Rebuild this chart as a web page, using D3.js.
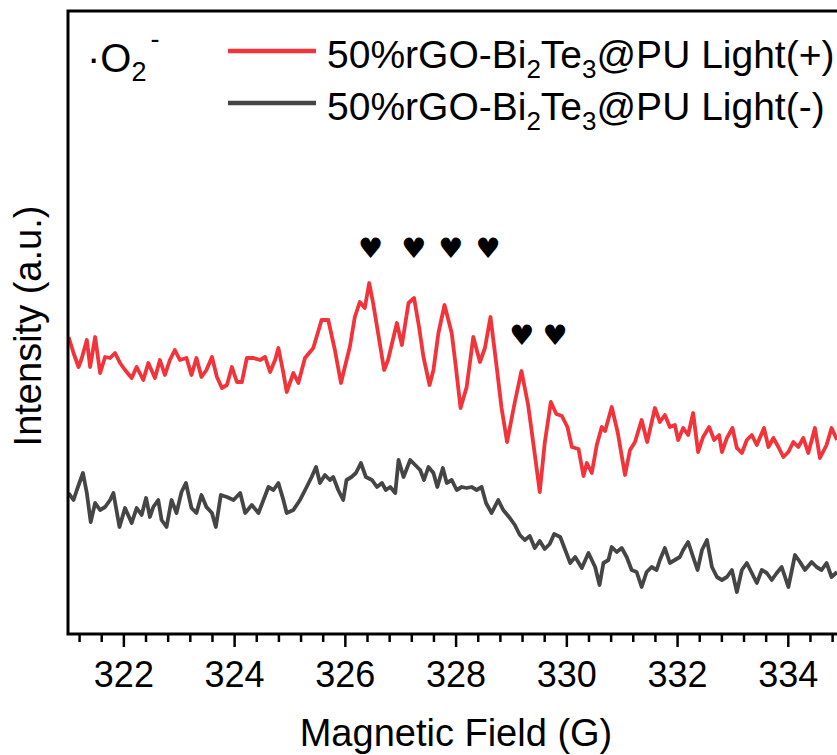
<!DOCTYPE html>
<html>
<head>
<meta charset="utf-8">
<script src="https://cdn.jsdelivr.net/npm/d3@7"></script>
<style>
html,body{margin:0;padding:0;background:#fff;}
svg{display:block;}
text{font-family:"Liberation Sans", Arial, sans-serif;fill:#000;}
</style>
</head>
<body>
<svg id="chart" width="837" height="755"></svg>
<script>
// ---- data (Magnetic Field in G, Intensity in a.u.) ----
const lightOn = [
[321.01,29.7],[321.10,28.1],[321.19,26.7],[321.25,27.6],[321.34,29.4],[321.40,26.7],[321.49,29.7],[321.58,26.1],
[321.67,27.7],[321.76,27.6],[321.85,28.1],[321.94,27.1],[322.03,26.4],[322.15,25.6],[322.24,26.7],[322.36,25.4],
[322.45,27.1],[322.57,25.6],[322.66,27.4],[322.75,25.9],[322.84,27.4],[322.93,28.4],[323.02,27.4],[323.14,27.6],
[323.23,25.9],[323.32,27.6],[323.41,25.7],[323.50,26.4],[323.60,27.7],[323.69,25.7],[323.78,24.6],[323.87,24.9],
[323.96,26.7],[324.05,25.2],[324.14,25.2],[324.23,27.6],[324.35,27.6],[324.47,27.4],[324.56,27.7],[324.65,26.2],
[324.74,27.4],[324.80,28.6],[324.89,26.1],[324.95,24.2],[325.07,26.1],[325.16,25.1],[325.28,27.6],[325.43,28.6],
[325.58,31.4],[325.70,31.4],[325.82,28.4],[325.93,25.1],[326.00,26.7],[326.09,28.7],[326.18,31.7],[326.27,33.2],
[326.36,32.6],[326.44,35.1],[326.51,33.1],[326.60,30.1],[326.71,26.4],[326.78,27.4],[326.94,31.1],[327.03,28.9],
[327.15,33.1],[327.25,33.6],[327.34,30.7],[327.42,27.7],[327.53,24.9],[327.60,26.4],[327.69,30.1],[327.80,32.9],
[327.93,30.1],[327.99,27.4],[328.09,22.6],[328.20,24.7],[328.32,29.7],[328.44,27.2],[328.53,28.6],[328.63,31.7],
[328.74,26.8],[328.83,22.6],[328.93,19.2],[329.07,23.2],[329.19,26.3],[329.31,22.9],[329.42,18.4],[329.52,14.2],
[329.61,19.1],[329.72,23.2],[329.82,22.0],[329.92,21.8],[330.02,20.7],[330.10,18.7],[330.22,18.5],[330.31,15.8],
[330.37,17.1],[330.46,16.1],[330.55,18.9],[330.64,20.7],[330.70,20.3],[330.82,22.7],[330.93,20.1],[331.06,15.9],
[331.15,18.4],[331.24,19.2],[331.36,21.4],[331.46,19.2],[331.60,22.6],[331.69,21.2],[331.78,21.9],[331.87,20.7],
[331.96,20.9],[332.02,19.4],[332.11,20.6],[332.20,19.9],[332.29,22.1],[332.38,18.2],[332.47,19.7],[332.58,20.7],
[332.67,19.4],[332.76,19.9],[332.81,18.2],[332.90,19.6],[333.00,20.6],[333.08,18.6],[333.17,18.1],[333.26,19.4],
[333.35,19.9],[333.44,18.9],[333.57,20.6],[333.65,18.7],[333.74,19.6],[333.83,18.7],[333.92,17.7],[334.01,18.2],
[334.10,19.2],[334.19,18.7],[334.28,19.6],[334.37,18.1],[334.49,20.6],[334.58,17.6],[334.70,18.9],[334.79,20.6],
[334.89,19.4]
];
const lightOff = [
[321.01,14.1],[321.10,13.4],[321.16,14.4],[321.27,16.1],[321.34,14.1],[321.41,11.2],[321.49,13.1],[321.58,12.4],
[321.67,12.7],[321.76,13.4],[321.82,14.1],[321.93,10.7],[322.03,12.6],[322.15,11.1],[322.24,12.6],[322.33,11.9],
[322.41,13.6],[322.48,11.7],[322.54,12.7],[322.63,13.4],[322.69,11.4],[322.78,10.7],[322.87,13.4],[322.96,12.1],
[323.05,14.2],[323.13,15.1],[323.23,12.6],[323.32,12.1],[323.41,13.9],[323.50,12.7],[323.60,12.1],[323.67,10.7],
[323.76,13.9],[323.87,13.7],[323.99,13.4],[324.11,14.1],[324.20,12.1],[324.32,12.9],[324.44,12.1],[324.53,13.4],
[324.62,14.7],[324.71,14.4],[324.80,15.1],[324.89,13.4],[324.95,12.1],[325.07,12.4],[325.19,13.4],[325.31,14.7],
[325.40,15.7],[325.48,16.7],[325.55,15.1],[325.64,15.9],[325.73,15.4],[325.79,15.7],[325.88,14.4],[325.97,13.4],
[326.03,15.4],[326.12,15.7],[326.20,16.1],[326.29,17.1],[326.38,15.7],[326.49,15.4],[326.58,14.7],[326.67,15.1],
[326.74,14.4],[326.82,14.7],[326.91,14.1],[326.97,17.4],[327.06,15.7],[327.18,17.4],[327.27,16.9],[327.36,16.4],
[327.43,15.4],[327.51,16.7],[327.60,16.1],[327.67,14.7],[327.77,16.6],[327.84,15.1],[327.93,15.4],[328.02,14.4],
[328.11,14.7],[328.20,14.6],[328.29,14.7],[328.38,14.4],[328.47,14.7],[328.55,13.1],[328.65,12.1],[328.77,13.4],
[328.86,12.4],[328.98,11.6],[329.07,10.9],[329.16,9.9],[329.25,9.4],[329.34,9.8],[329.43,8.6],[329.52,9.3],
[329.61,8.5],[329.70,9.0],[329.78,10.0],[329.89,9.7],[329.98,8.4],[330.07,7.1],[330.16,7.7],[330.28,6.6],
[330.40,8.1],[330.52,6.7],[330.60,4.9],[330.67,7.1],[330.76,7.4],[330.82,8.7],[330.91,8.2],[331.00,8.6],
[331.09,7.7],[331.18,6.4],[331.27,6.2],[331.36,4.7],[331.45,6.2],[331.54,6.7],[331.63,6.4],[331.69,7.4],
[331.78,8.6],[331.87,7.1],[331.96,7.4],[332.05,7.7],[332.11,8.4],[332.20,9.2],[332.29,7.7],[332.37,6.4],
[332.45,8.4],[332.54,9.4],[332.63,6.7],[332.72,5.7],[332.81,5.4],[332.90,5.7],[332.99,6.4],[333.08,4.2],
[333.17,6.4],[333.26,7.1],[333.35,6.1],[333.44,5.1],[333.53,6.4],[333.62,6.1],[333.71,5.4],[333.80,6.1],
[333.89,6.7],[334.01,4.7],[334.13,7.9],[334.22,7.2],[334.31,6.4],[334.43,7.2],[334.52,6.7],[334.61,6.4],
[334.70,7.1],[334.79,5.7],[334.89,6.2]
];
const xTicks = [322, 324, 326, 328, 330, 332, 334];
const heartMarks = [[326.47,38.6],[327.25,38.6],[327.92,38.6],[328.59,38.6],[329.20,29.9],[329.80,29.9]];
const seriesNames = ["Light(+)", "Light(-)"];

// ---- layout ----
const svg = d3.select("#chart");
const mLeft = 68, mTop = 11, mBottom = 634;
const x = d3.scaleLinear().domain([321, 335]).range([mLeft, mLeft + 14 * 55.37]);
const y = d3.scaleLinear().domain([0, 62.3]).range([mBottom, mTop]);

const colors = ["#f2333a", "#454545"];

svg.append("defs").append("clipPath").attr("id", "clip")
  .append("rect").attr("x", mLeft).attr("y", mTop).attr("width", x(335) - mLeft).attr("height", mBottom - mTop);

const line = d3.line().x(d => x(d[0])).y(d => y(d[1]));
const plot = svg.append("g").attr("clip-path", "url(#clip)");
plot.append("path").datum(lightOff).attr("d", line)
  .attr("fill", "none").attr("stroke", colors[1]).attr("stroke-width", 3.8).attr("stroke-linejoin", "round");
plot.append("path").datum(lightOn).attr("d", line)
  .attr("fill", "none").attr("stroke", colors[0]).attr("stroke-width", 3.8).attr("stroke-linejoin", "round");

// frame
svg.append("rect").attr("x", mLeft).attr("y", mTop).attr("width", x(335) - mLeft).attr("height", mBottom - mTop)
  .attr("fill", "none").attr("stroke", "#000").attr("stroke-width", 3);

// x axis
const minorTicks = d3.range(321.2, 335.01, 0.4).filter(v => Math.abs((v - 322) / 2 - Math.round((v - 322) / 2)) > 0.01);
const gMinor = svg.append("g").attr("transform", `translate(0,${mBottom})`)
  .call(d3.axisBottom(x).tickValues(minorTicks).tickSize(8).tickFormat(""));
gMinor.select(".domain").remove();
gMinor.selectAll("line").attr("stroke-width", 2.5);

const gx = svg.append("g").attr("transform", `translate(0,${mBottom})`)
  .call(d3.axisBottom(x).tickValues(xTicks).tickSize(13).tickFormat(d3.format("d")));
gx.select(".domain").remove();
gx.selectAll("line").attr("stroke-width", 2.5);
gx.selectAll("text").attr("dy", null).attr("y", 53)
  .style("font-family", "'Liberation Sans', Arial, sans-serif").style("font-size", "36px").attr("fill", "#000");

// axis titles
svg.append("text").attr("x", 456).attr("y", 746).attr("text-anchor", "middle")
  .style("font-size", "38px").text("Magnetic Field (G)");
svg.append("text").attr("transform", "translate(41,326) rotate(-90)").attr("text-anchor", "middle")
  .style("font-size", "38px").text("Intensity (a.u.)");

// hearts
svg.selectAll("text.heart").data(heartMarks).join("text").attr("class", "heart")
  .attr("x", d => x(d[0])).attr("y", d => y(d[1]))
  .attr("text-anchor", "middle").attr("dominant-baseline", "central")
  .style("font-family", "'DejaVu Sans', sans-serif").style("font-size", "28px").text("\u2665");

// species label
const sp = svg.append("text").attr("x", 87).attr("y", 72).style("font-size", "40px");
sp.append("tspan").text("\u00b7O");
sp.append("tspan").attr("dy", 9).style("font-size", "27px").text("2");
sp.append("tspan").attr("dy", -33).attr("dx", 4).style("font-size", "27px").text("-");

// legend
const legendY = [51, 103];
seriesNames.forEach((name, i) => {
  svg.append("line").attr("x1", 228).attr("x2", 316).attr("y1", legendY[i]).attr("y2", legendY[i])
    .attr("stroke", colors[i]).attr("stroke-width", 4.5);
  const t = svg.append("text").attr("x", 327).attr("y", legendY[i] + 17).style("font-size", "39px");
  t.append("tspan").text("50%rGO-Bi");
  t.append("tspan").attr("dy", 10).style("font-size", "26px").text("2");
  t.append("tspan").attr("dy", -10).text("Te");
  t.append("tspan").attr("dy", 10).style("font-size", "26px").text("3");
  t.append("tspan").attr("dy", -10).text("@PU " + name);
});
</script>
</body>
</html>
